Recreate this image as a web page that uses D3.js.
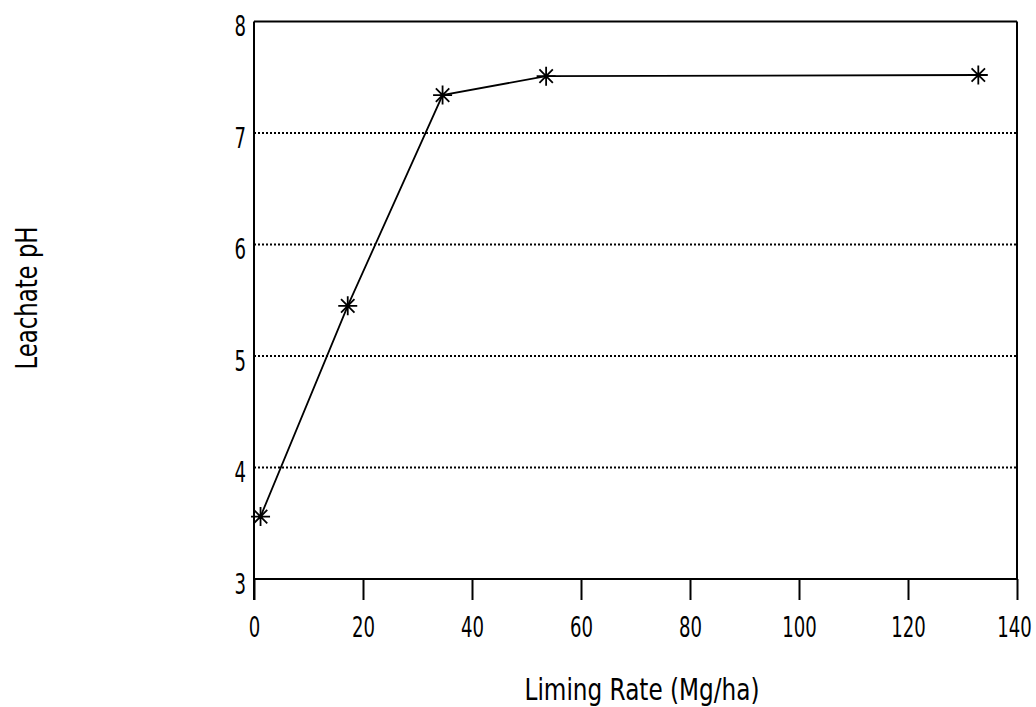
<!DOCTYPE html>
<html>
<head>
<meta charset="utf-8">
<script src="https://cdn.jsdelivr.net/npm/d3@7"></script>
<style>
  html, body { margin: 0; padding: 0; background: #fff; }
  svg { display: block; }
  text { font-family: "Liberation Sans Narrow", "DejaVu Sans Condensed", "Liberation Sans", sans-serif; fill: #000; }
</style>
</head>
<body>
<svg id="chart" width="1036" height="707"></svg>
<script>
// ---- data ----
const limingRate = [1.2, 17.2, 34.6, 53.6, 132.9];
const leachatePH = [3.56, 5.45, 7.34, 7.51, 7.52];
const xTicks = [0, 20, 40, 60, 80, 100, 120, 140];
const yTicks = [3, 4, 5, 6, 7, 8];
const gridValues = [4, 5, 6, 7];
const xTitle = "Liming Rate (Mg/ha)";
const yTitle = "Leachate pH";

// ---- layout ----
const mLeft = 254, mRight = 1017, mTop = 21.5, mBottom = 579;
const digitW = 11.5;
const svg = d3.select("#chart");

const x = d3.scaleLinear().domain([0, 140]).range([mLeft, mRight]);
const y = d3.scaleLinear().domain([3, 8]).range([mBottom, mTop]);

// gridlines
svg.append("g").selectAll("line").data(gridValues).join("line")
  .attr("x1", mLeft).attr("x2", mRight)
  .attr("y1", d => y(d)).attr("y2", d => y(d))
  .attr("stroke", "#000").attr("stroke-width", 2)
  .attr("stroke-dasharray", "2,2");

// x axis
const xAxis = d3.axisBottom(x).tickValues(xTicks).tickSize(21).tickPadding(17)
  .tickFormat(d3.format("d"));
const gx = svg.append("g").attr("transform", `translate(0,${mBottom})`).call(xAxis);
gx.select(".domain").attr("stroke", "#000").attr("stroke-width", 2).attr("d", `M${mLeft},0H${mRight}`);
gx.selectAll(".tick line").attr("stroke", "#000").attr("stroke-width", 2);
gx.selectAll(".tick text").attr("font-size", 28).attr("font-family", null)
  .attr("dy", null).attr("y", 58)
  .attr("x", (d, i, n) => i === n.length - 1 ? -3 : 0)
  .attr("textLength", d => String(d).length * digitW)
  .attr("lengthAdjust", "spacingAndGlyphs");

// y axis
const yAxis = d3.axisLeft(y).tickValues(yTicks).tickSize(0).tickPadding(8)
  .tickFormat(d3.format("d"));
const gy = svg.append("g").attr("transform", `translate(${mLeft},0)`).call(yAxis);
gy.select(".domain").attr("stroke", "#000").attr("stroke-width", 2)
  .attr("d", `M0,${mTop}V${mBottom + 21}`);
gy.selectAll(".tick text").attr("font-size", 28).attr("font-family", null)
  .attr("dy", "0.5em")
  .attr("textLength", d => String(d).length * digitW)
  .attr("lengthAdjust", "spacingAndGlyphs");

// frame top and right
svg.append("line").attr("x1", mLeft).attr("x2", mRight).attr("y1", mTop).attr("y2", mTop)
  .attr("stroke", "#000").attr("stroke-width", 2.2);
svg.append("line").attr("x1", mRight).attr("x2", mRight).attr("y1", mTop).attr("y2", mBottom)
  .attr("stroke", "#000").attr("stroke-width", 2);

// series line
const pts = limingRate.map((v, i) => [v, leachatePH[i]]);
svg.append("path").datum(pts)
  .attr("fill", "none").attr("stroke", "#000").attr("stroke-width", 1.8)
  .attr("d", d3.line().x(d => x(d[0])).y(d => y(d[1])));

// star markers (8 arms)
function star(r) {
  const p = d3.path();
  for (let k = 0; k < 4; k++) {
    const a = k * Math.PI / 4;
    const dx = r * Math.cos(a), dy = r * Math.sin(a);
    p.moveTo(-dx, -dy); p.lineTo(dx, dy);
  }
  return p.toString();
}
svg.append("g").selectAll("path").data(pts).join("path")
  .attr("transform", d => `translate(${x(d[0])},${y(d[1])})`)
  .attr("d", star(9.5))
  .attr("fill", "none").attr("stroke", "#000").attr("stroke-width", 1.8);

// titles
svg.append("text").attr("x", 642).attr("y", 700).attr("text-anchor", "middle")
  .attr("font-size", 30).attr("textLength", 235).attr("lengthAdjust", "spacingAndGlyphs")
  .text(xTitle);
svg.append("text").attr("transform", "translate(37,298) rotate(-90)")
  .attr("text-anchor", "middle").attr("font-size", 30)
  .attr("textLength", 143).attr("lengthAdjust", "spacingAndGlyphs")
  .text(yTitle);
</script>
</body>
</html>
